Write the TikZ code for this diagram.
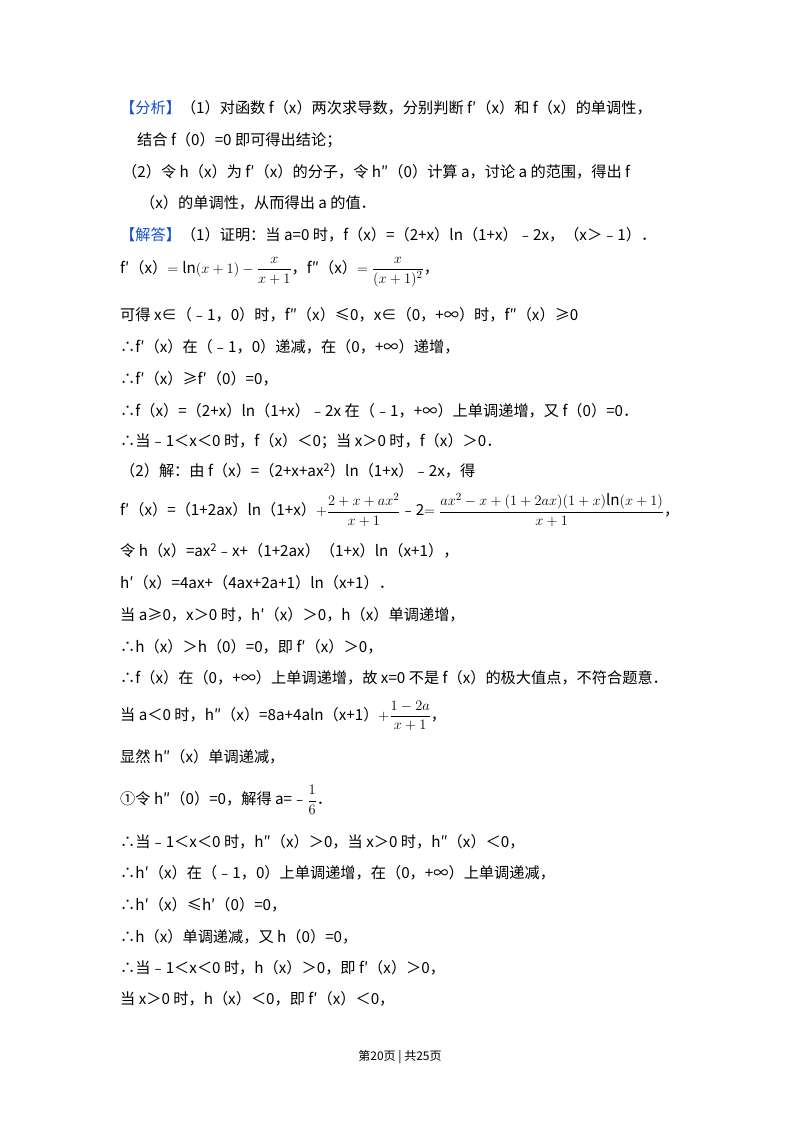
\documentclass[tikz,border=0pt]{standalone}
\usepackage{fontspec}
\usepackage{amsmath}
\setmainfont{Noto Sans CJK SC}
\definecolor{hd}{RGB}{20,80,200}
\begin{document}
\begin{tikzpicture}[x=1pt,y=-1pt,
  t/.style={anchor=west,inner sep=0pt,font=\fontsize{15.2}{17}\selectfont},
  fr/.style={anchor=west,inner sep=0pt,font=\fontsize{15.2}{17}\selectfont}]
\useasboundingbox (0,0) rectangle (800,1132);
\fill[white] (0,0) rectangle (800,1132);
\node[t] (l1) at (120,108) {\textcolor{hd}{【分析】}（1）对函数 f（x）两次求导数，分别判断 f′（x）和 f（x）的单调性，};
\node[t] (l2) at (137,140) {结合 f（0）=0 即可得出结论；};
\node[t] (l3) at (122,172) {（2）令 h（x）为 f′（x）的分子，令 h″（0）计算 a，讨论 a 的范围，得出 f};
\node[t] (l4) at (140,203) {（x）的单调性，从而得出 a 的值．};
\node[t] (l5) at (120,235) {\textcolor{hd}{【解答】}（1）证明：当 a=0 时，f（x）=（2+x）ln（1+x）﹣2x，（x＞﹣1）．};
\node[fr] (l6) at (120,272) {f′（x）$=\mathrm{ln}(x+1)-\dfrac{x}{x+1}$，f″（x）$=\dfrac{x}{(x+1)^2}$，};
\node[t] (l7) at (120,315) {可得 x∈（﹣1，0）时，f″（x）≤0，x∈（0，+∞）时，f″（x）≥0};
\node[t] (l8) at (120,347) {∴f′（x）在（﹣1，0）递减，在（0，+∞）递增，};
\node[t] (l9) at (120,379) {∴f′（x）≥f′（0）=0，};
\node[t] (l10) at (120,411) {∴f（x）=（2+x）ln（1+x）﹣2x 在（﹣1，+∞）上单调递增，又 f（0）=0．};
\node[t] (l11) at (120,441) {∴当﹣1＜x＜0 时，f（x）＜0；当 x＞0 时，f（x）＞0．};
\node[t] (l12) at (120,471) {（2）解：由 f（x）=（2+x+ax\textsuperscript{2}）ln（1+x）﹣2x，得};
\node[fr] (l13) at (120,510) {f′（x）=（1+2ax）ln（1+x）$+\dfrac{2+x+ax^2}{x+1}$﹣2$=\dfrac{ax^2-x+(1+2ax)(1+x)\mathrm{ln}(x+1)}{x+1}$，};
\node[t] (l14) at (120,551) {令 h（x）=ax\textsuperscript{2}﹣x+（1+2ax）（1+x）ln（x+1），};
\node[t] (l15) at (120,583) {h′（x）=4ax+（4ax+2a+1）ln（x+1）．};
\node[t] (l16) at (120,615) {当 a≥0，x＞0 时，h′（x）＞0，h（x）单调递增，};
\node[t] (l17) at (120,647) {∴h（x）＞h（0）=0，即 f′（x）＞0，};
\node[t] (l18) at (120,678) {∴f（x）在（0，+∞）上单调递增，故 x=0 不是 f（x）的极大值点，不符合题意．};
\node[fr] (l19) at (120,716) {当 a＜0 时，h″（x）=8a+4aln（x+1）$+\dfrac{1-2a}{x+1}$，};
\node[t] (l20) at (120,757) {显然 h″（x）单调递减，};
\node[fr] (l21) at (120,800) {①令 h″（0）=0，解得 a=﹣$\dfrac{1}{6}$．};
\node[t] (l22) at (120,842) {∴当﹣1＜x＜0 时，h″（x）＞0，当 x＞0 时，h″（x）＜0，};
\node[t] (l23) at (120,873) {∴h′（x）在（﹣1，0）上单调递增，在（0，+∞）上单调递减，};
\node[t] (l24) at (120,905) {∴h′（x）≤h′（0）=0，};
\node[t] (l25) at (120,937) {∴h（x）单调递减，又 h（0）=0，};
\node[t] (l26) at (120,968) {∴当﹣1＜x＜0 时，h（x）＞0，即 f′（x）＞0，};
\node[t] (l27) at (120,999) {当 x＞0 时，h（x）＜0，即 f′（x）＜0，};
\node[inner sep=0pt,font=\fontsize{12}{14}\selectfont] (ft) at (400,1057) {第20页 | 共25页};
\end{tikzpicture}
\end{document}
